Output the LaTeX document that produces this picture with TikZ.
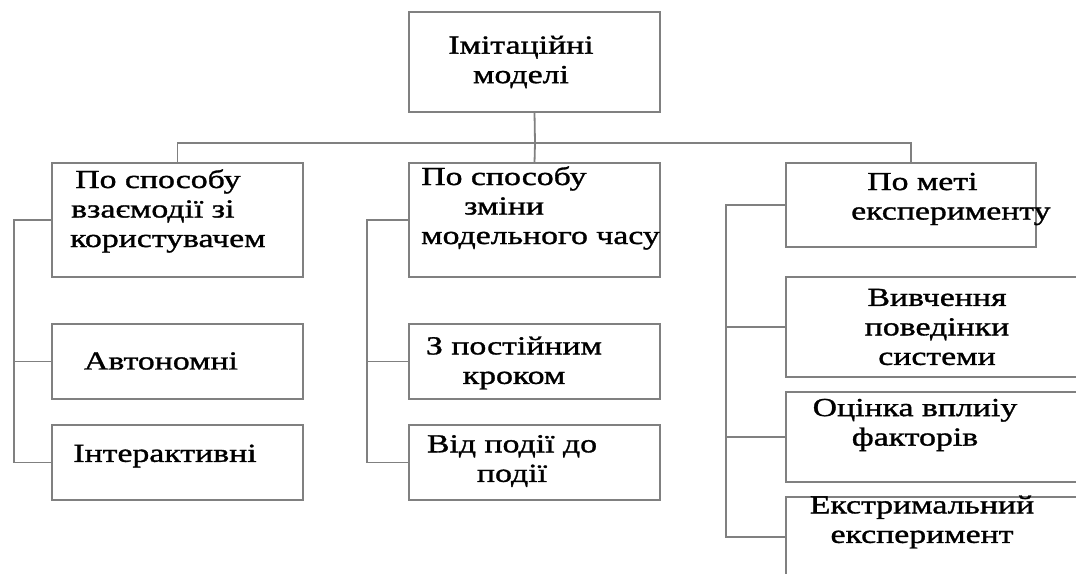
\documentclass[tikz,border=0pt]{standalone}
\usepackage{fontspec}
\setmainfont{Liberation Serif}[FakeStretch=1.3,FakeBold=1.2]
\begin{document}
\begin{tikzpicture}[x=1pt,y=-1pt,
  box/.style={draw=black!50, line width=1.8pt, inner sep=0pt, outer sep=0pt, anchor=north west},
  conn/.style={draw=black!50, line width=1.8pt},
  lbl/.style={font=\fontsize{26}{29.5}\selectfont, inner sep=0pt, text=black}]
\useasboundingbox (0,0) rectangle (1076,573);
\clip (0,0) rectangle (1076,573);
\fill[white] (0,0) rectangle (1076,573);
% boxes
\node[box, minimum width=251pt, minimum height=100pt] (top) at (409,12) {};
\node[box, minimum width=251pt, minimum height=114pt] (l1) at (52,163) {};
\node[box, minimum width=251pt, minimum height=75pt] (l2) at (52,324) {};
\node[box, minimum width=251pt, minimum height=75pt] (l3) at (52,425) {};
\node[box, minimum width=251pt, minimum height=114pt] (m1) at (409,163) {};
\node[box, minimum width=251pt, minimum height=75pt] (m2) at (409,324) {};
\node[box, minimum width=251pt, minimum height=75pt] (m3) at (409,425) {};
\node[box, minimum width=250pt, minimum height=84pt] (r1) at (786,163) {};
\node[box, minimum width=300pt, minimum height=100pt] (r2) at (786,277) {};
\node[box, minimum width=300pt, minimum height=90pt] (r3) at (786,392) {};
\node[box, minimum width=300pt, minimum height=80pt] (r4) at (786,497) {};
% labels
\node[lbl, align=center] (ttop) at (521,62) {Імітаційні\\ моделі};
\node[lbl, align=left, anchor=west] (tl1) at (70,211) {\hspace*{5pt}По способу\\ \hspace*{1pt}взаємодії зі\\ користувачем};
\node[lbl] (tl2) at (161,361) {Автономні};
\node[lbl] (tl3) at (165,456) {Інтерактивні};
\node[lbl, align=left, anchor=west] (tm1) at (421,208) {По способу\\ \hspace*{43pt}зміни\\ модельного часу};
\node[lbl, align=center] (tm2) at (514,363) {З постійним\\ кроком};
\node[lbl, align=center] (tm3) at (512,461) {Від події до\\ події};
\node[lbl, align=left, anchor=west] (tr1) at (851,199) {\hspace*{16pt}По меті\\ експерименту};
\node[lbl, align=center] (tr2) at (937,327) {Вивчення\\ поведінки\\ системи};
\node[lbl, align=center] (tr3) at (915,425) {Оцінка вплиіу\\ факторів};
\node[lbl, align=center] (tr4) at (922,522) {Екстримальний\\ експеримент};
% connectors
\coordinate (bus) at (535,143);
\draw[conn] (top.south) -- (bus);
\draw[conn] (l1.north) |- (bus) -| (r1.north);
\draw[conn] (bus) -- (m1.north);
\coordinate (lbus) at (14,220);
\draw[conn] (l1.west) -- (lbus) |- (l3.west);
\draw[conn] (l2.west) -- (l2.west -| lbus);
\coordinate (mbus) at (367,220);
\draw[conn] (m1.west) -- (mbus) |- (m3.west);
\draw[conn] (m2.west) -- (m2.west -| mbus);
\coordinate (rbus) at (726,205);
\draw[conn] (r1.west) -- (rbus) |- (r4.west);
\draw[conn] (r2.west) -- (r2.west -| rbus);
\draw[conn] (r3.west) -- (r3.west -| rbus);
\end{tikzpicture}
\end{document}
